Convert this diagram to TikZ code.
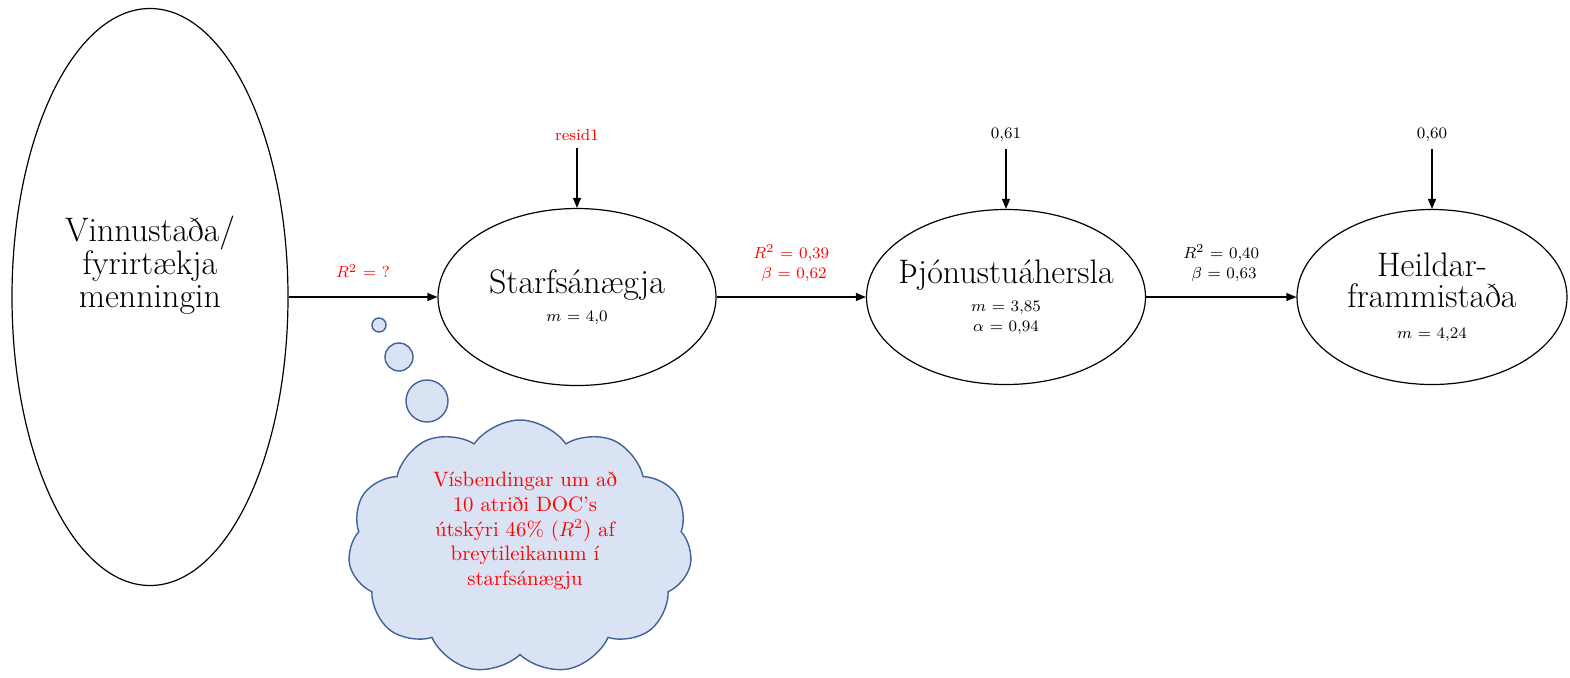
\documentclass[tikz,border=0pt]{standalone}
\usetikzlibrary{shapes.geometric,shapes.symbols,arrows.meta,positioning}
\definecolor{cloudfill}{HTML}{DAE3F3}
\definecolor{cloudline}{HTML}{41619E}
\newcommand{\biglbl}{\fontsize{17}{16.5}\selectfont}
\newcommand{\smllbl}{\fontsize{8}{10}\selectfont}

\begin{document}
\begin{tikzpicture}[x=0.5pt,y=-0.5pt,
  latent/.style={draw,ellipse,line width=0.6pt,align=center,inner sep=0pt,font=\biglbl},
  path/.style={line width=0.65pt,-{Triangle[length=5pt,width=4pt]}},
  bubble/.style={draw=cloudline,fill=cloudfill,line width=0.7pt},
  note/.style={font=\smllbl,align=center}]
\useasboundingbox (0,0) rectangle (1570,677);
% latent variables
\node[latent,minimum width=138pt,minimum height=288.5pt] (vinn) at (150,297) {};
\node[align=center,font=\biglbl] (vinntxt) at (150,265)
  {Vinnustaða/\\fyrirtækja\\menningin};
\node[latent,minimum width=139pt,minimum height=88.5pt] (star) at (577,297)
  {Starfsánægja\\[-2.5pt]\smllbl $m$ = 4,0};
\node[latent,inner xsep=-14pt,minimum width=139.5pt,minimum height=87.5pt] (thjo) at (1006,297)
  {Þjónustuáhersla\\[-2.5pt]\smllbl $m$ = 3,85\\[-6.5pt]\smllbl $\alpha$ = 0,94};
\node[latent,minimum width=135pt,minimum height=87.5pt] (heil) at (1432,297)
  {Heildar-\\[-1pt]frammistaða\\[-1pt]\smllbl $m$ = 4,24};
% residuals
\node[note,text=red,above=30pt of star] (res1) {resid1};
\node[note,above=30pt of thjo] (res2) {0,61};
\node[note,above=30pt of heil] (res3) {0,60};
\draw[path] (res1) -- (star);
\draw[path] (res2) -- (thjo);
\draw[path] (res3) -- (heil);
% paths
\draw[path] (star.west -| vinn.east) -- (star.west)
  node[midway,above=6pt,note,text=red] (r2a) {$R^2$ = ?};
\draw[path] (star.east) -- (thjo.west)
  node[midway,above=4pt,note,text=red] (r2b) {$R^2$ = 0,39\\ \ $\beta$ = 0,62};
\draw[path] (thjo.east) -- (heil.west)
  node[midway,above=4pt,note] (r2c) {$R^2$ = 0,40\\ \ $\beta$ = 0,63};
% thought bubble
\fill[bubble] (379,325) circle (3.5pt);
\fill[bubble] (399,357) circle (7pt);
\fill[bubble] (427,401) circle (10.5pt);
\node[cloud,bubble,cloud puffs=11,cloud puff arc=110,aspect=1.35,
  minimum width=172pt,minimum height=127pt] (cld) at (520,547) {};
\node[align=center,text=red,font=\fontsize{10.4}{12.3}\selectfont] (cldtxt) at (525,531)
  {Vísbendingar um að\\10 atriði DOC’s\\útskýri 46\% ($R^2$) af\\breytileikanum í\\starfsánægju};
\end{tikzpicture}
\end{document}
